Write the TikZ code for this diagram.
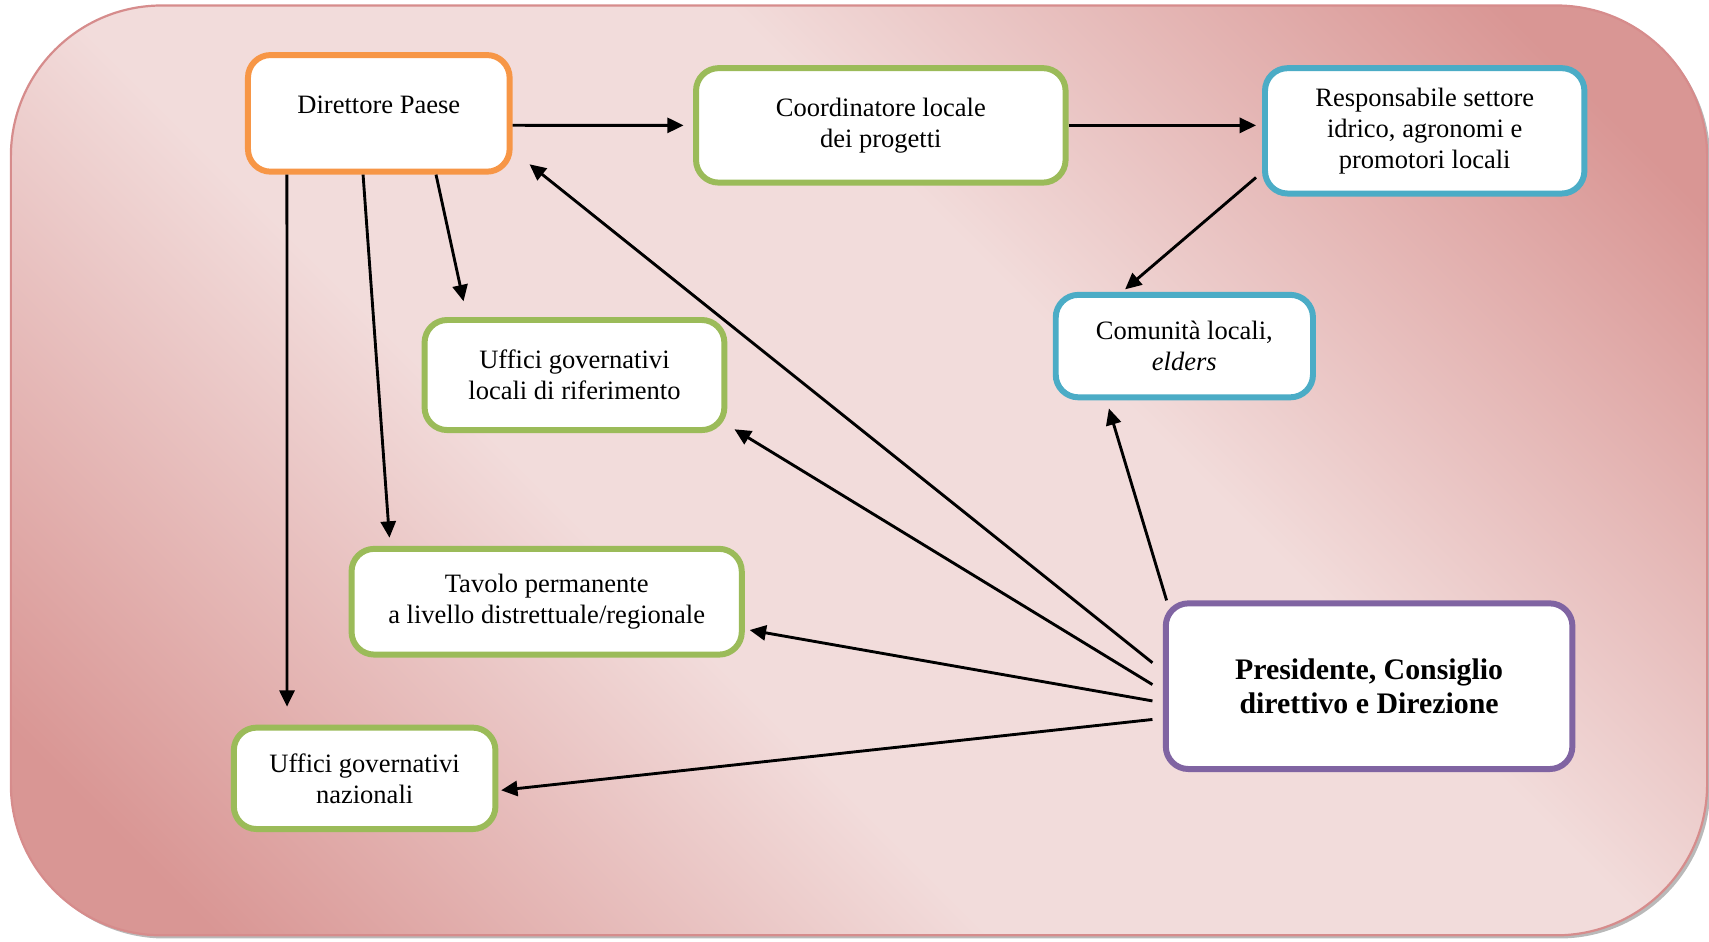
\documentclass[tikz,border=0pt]{standalone}
\usepackage{fontspec}
\setmainfont{Liberation Serif}
\usepackage{tikz}
\usetikzlibrary{
  arrows.meta,
  calc
}
\definecolor{bgdark}{HTML}{D99694}
\definecolor{bglight}{HTML}{F2DCDB}
\definecolor{bgline}{RGB}{214,140,140}
\definecolor{boxorange}{HTML}{F79646}
\definecolor{boxgreen}{HTML}{9BBB59}
\definecolor{boxblue}{HTML}{4BACC6}
\definecolor{boxpurple}{HTML}{8064A2}
\pgfdeclarehorizontalshading{bgshade}{100bp}{color(0bp)=(bgdark); color(20bp)=(bgdark);
  color(41bp)=(bglight); color(59bp)=(bglight); color(80bp)=(bgdark); color(100bp)=(bgdark)}
\tikzset{>={Triangle[length=0.26cm,width=0.24cm]}}
\tikzset{
  box/.style={draw, fill=white, line width=2.7pt, rounded corners=0.36cm,
    align=center, inner sep=0pt, font=\fontsize{12}{14}\selectfont},
  arr/.style={->, line width=1.3pt}
}

\begin{document}
\begin{tikzpicture}
\useasboundingbox (0,0) rectangle (27.17,-14.97);
% sfondo
\fill[gray!55, rounded corners=2.4cm] (0.22,-0.14) rectangle (27.19,-14.92);
\draw[bgline, line width=1pt, rounded corners=2.4cm, shading=bgshade, shading angle=45]
  (0.173,-0.087) rectangle (27.14,-14.87);
% riquadri
\node[box, draw=boxorange, minimum width=4.16cm, minimum height=1.854cm,
  text depth=0.28cm] (dir) at (6.022,-1.802) {Direttore Paese};
\node[box, draw=boxgreen, minimum width=5.875cm, minimum height=1.82cm]
  (coord) at (14.003,-1.993) {Coordinatore locale\\dei progetti};
\node[box, draw=boxblue, minimum width=5.078cm, minimum height=1.993cm]
  (resp) at (22.650,-2.080) {Responsabile settore\\idrico, agronomi e\\promotori locali};
\node[box, draw=boxblue, minimum width=4.09cm, minimum height=1.629cm]
  (com) at (18.829,-5.502) {Comunità locali,\\\textit{elders}};
\node[box, draw=boxgreen, minimum width=4.766cm, minimum height=1.75cm]
  (uloc) at (9.133,-5.962) {Uffici governativi\\locali di riferimento};
\node[box, draw=boxgreen, minimum width=6.204cm, minimum height=1.681cm]
  (tav) at (8.691,-9.566) {Tavolo permanente\\a livello distrettuale/regionale};
\node[box, draw=boxgreen, minimum width=4.159cm, minimum height=1.612cm]
  (unaz) at (5.797,-12.374) {Uffici governativi\\nazionali};
\node[box, draw=boxpurple, minimum width=6.464cm, minimum height=2.634cm,
  font=\fontsize{13.5}{15.5}\selectfont\bfseries]
  (pres) at (21.766,-10.909) {Presidente, Consiglio\\direttivo e Direzione};
% frecce
\draw[arr] ([yshift=-0.19cm]dir.east) -- ([xshift=-0.15cm]coord.west);
\draw[arr] (coord.east) -- ([xshift=-0.095cm,yshift=0.087cm]resp.west);
\draw[arr] ([xshift=-0.095cm,yshift=0.303cm]resp.south west) -- ([xshift=1.15cm,yshift=0.04cm]com.north west);
\draw[arr] ([xshift=0.91cm]dir.south) -- ([xshift=0.667cm,yshift=0.25cm]uloc.north west);
\draw[arr] ([xshift=-0.25cm]dir.south) -- ([xshift=0.65cm,yshift=0.13cm]tav.north west);
\draw[arr] ([xshift=0.667cm]dir.south west) -- ([xshift=0.893cm,yshift=0.286cm]unaz.north west);
\draw[arr] ([xshift=-0.165cm,yshift=0.373cm]pres.west) -- ([xshift=0.269cm,yshift=0.165cm]dir.south east);
\draw[arr] ([xshift=-0.165cm,yshift=0.026cm]pres.west) -- ([xshift=0.113cm,yshift=0.06cm]uloc.south east);
\draw[arr] ([xshift=-0.165cm,yshift=-0.234cm]pres.west) -- ([xshift=0.078cm,yshift=-0.45cm]tav.east);
\draw[arr] ([xshift=-0.165cm,yshift=-0.529cm]pres.west) -- ([xshift=0.043cm,yshift=-0.19cm]unaz.east);
\draw[arr] ([xshift=0.06cm]pres.north west) -- ([xshift=0.893cm,yshift=-0.13cm]com.south west);
\end{tikzpicture}
\end{document}
